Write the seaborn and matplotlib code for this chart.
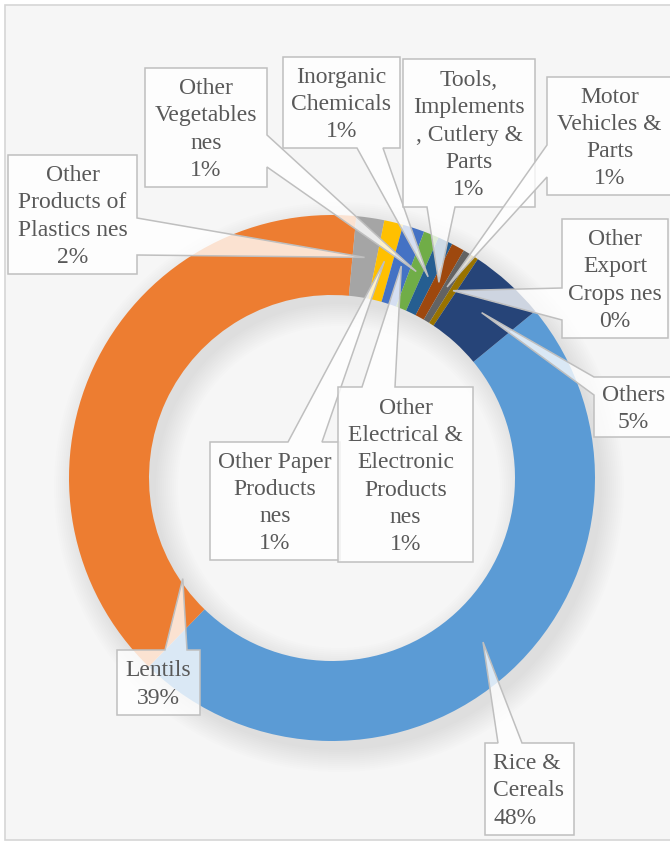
import os
import numpy as np
import pandas as pd
import matplotlib
matplotlib.use("Agg")
import matplotlib.pyplot as plt
import seaborn as sns
from matplotlib.patches import Wedge, Rectangle, Polygon
from matplotlib.font_manager import FontProperties

# ---------------- data ----------------
categories = [
    "Rice & Cereals", "Lentils", "Other Products of Plastics nes",
    "Other Paper Products nes", "Other Electrical & Electronic Products nes",
    "Other Vegetables nes", "Inorganic Chemicals",
    "Tools, Implements, Cutlery & Parts", "Motor Vehicles & Parts",
    "Other Export Crops nes", "Others",
]
shares = [48.2, 39.2, 1.72, 1.17, 1.33, 0.94, 0.92, 0.80, 0.55, 0.45, 4.70]
label_lines = [
    ["Rice &", "Cereals"],
    ["Lentils"],
    ["Other", "Products of", "Plastics nes"],
    ["Other Paper", "Products", "nes"],
    ["Other", "Electrical &", "Electronic", "Products", "nes"],
    ["Other", "Vegetables", "nes"],
    ["Inorganic", "Chemicals"],
    ["Tools,", "Implements", ", Cutlery &", "Parts"],
    ["Motor", "Vehicles &", "Parts"],
    ["Other", "Export", "Crops nes"],
    ["Others"],
]
colors = ["#5B9BD5", "#ED7D31", "#A5A5A5", "#FFC000", "#4472C4", "#70AD47",
          "#255E91", "#9E480E", "#636363", "#997300", "#264478"]

df = pd.DataFrame({"category": categories, "share": shares})

# ---------------- layout (pixel coords, y down) ----------------
W, H = 670, 842
CX, CY = 332, 478
R_OUT, R_IN = 263, 183
START_CW = 50.6  # first slice starts this many degrees clockwise from 12 o'clock

# box x0, y0, x1, y1, pointer edge, base1, base2, align
boxes = {
    "Rice & Cereals": (485, 743, 574, 835, "top", 498, 522, "left"),
    "Lentils": (117, 650, 200, 715, "top", 165, 187, "center"),
    "Other Products of Plastics nes": (8, 155, 137, 274, "right", 218, 255, "center"),
    "Other Paper Products nes": (210, 442, 340, 560, "top", 288, 322, "center"),
    "Other Electrical & Electronic Products nes": (338, 387, 473, 562, "top", 362, 395, "center"),
    "Other Vegetables nes": (145, 68, 267, 187, "right", 135, 167, "center"),
    "Inorganic Chemicals": (283, 57, 400, 148, "bottom", 357, 383, "center"),
    "Tools, Implements, Cutlery & Parts": (403, 59, 535, 207, "bottom", 427, 455, "center"),
    "Motor Vehicles & Parts": (547, 77, 672, 195, "left", 145, 177, "center"),
    "Other Export Crops nes": (562, 219, 668, 338, "left", 288, 320, "center"),
    "Others": (594, 377, 673, 437, "left", 377, 395, "center"),
}
tip_frac = {"Lentils": 0.084}
tip_rad = {"Lentils": 180}

# ---------------- style ----------------
sns.set_theme(style="white")
FS = 17
SERIF_PATH = "/usr/share/fonts/truetype/liberation/LiberationSerif-Regular.ttf"
if os.path.exists(SERIF_PATH):
    fprop = FontProperties(fname=SERIF_PATH, size=FS)
else:
    fprop = FontProperties(family="Liberation Serif", size=FS)
palette = sns.color_palette(colors)

fig = plt.figure(figsize=(W / 100, H / 100), dpi=100)
fig.patch.set_facecolor("white")
ax = fig.add_axes([0, 0, 1, 1])


def fy(y):
    return H - y


# chart area
ax.add_patch(Rectangle((5, fy(840)), 680, 835, facecolor="#F6F6F6",
                       edgecolor="#D6D6D6", lw=1.2, zorder=0))

# soft drop shadow of the ring (offset down-right)
for k in range(12):
    ax.add_patch(Wedge((CX + 7, fy(CY + 9)), R_OUT + k * 2.0, 0, 360,
                       width=(R_OUT - R_IN) + k * 4.0, facecolor="black",
                       edgecolor="none", alpha=0.009, zorder=1))

wedges, _ = ax.pie(df["share"], colors=palette, startangle=90 - START_CW,
                   counterclock=False, radius=R_OUT, center=(CX, fy(CY)),
                   wedgeprops=dict(width=R_OUT - R_IN, edgecolor="none"))
for w in wedges:
    w.set_zorder(2)

LINE = 27.2


def callout(x0, y0, x1, y1, edge, b1, b2, tip):
    TL, TR, BR, BL = (x0, y0), (x1, y0), (x1, y1), (x0, y1)
    if edge == "top":
        pts = [TL, (b1, y0), tip, (b2, y0), TR, BR, BL]
    elif edge == "right":
        pts = [TL, TR, (x1, b1), tip, (x1, b2), BR, BL]
    elif edge == "bottom":
        pts = [TL, TR, BR, (b2, y1), tip, (b1, y1), BL]
    else:
        pts = [TL, TR, BR, BL, (x0, b2), tip, (x0, b1)]
    return [(px, fy(py)) for px, py in pts]


for i, cat in enumerate(categories):
    w = wedges[i]
    x0, y0, x1, y1, edge, b1, b2, align = boxes[cat]
    f = tip_frac.get(cat, 0.5)
    ang = np.deg2rad(w.theta2 - f * (w.theta2 - w.theta1))
    rt = tip_rad.get(cat, (R_OUT + R_IN) / 2)
    tx = CX + rt * np.cos(ang)
    ty = CY - rt * np.sin(ang)
    poly = Polygon(callout(x0, y0, x1, y1, edge, b1, b2, (tx, ty)), closed=True,
                   facecolor=(1, 1, 1, 0.78), edgecolor="#BFBFBF", lw=1.1,
                   zorder=5 + i * 0.01, joinstyle="miter")
    ax.add_patch(poly)
    lines = label_lines[i] + [f"{round(shares[i])}%"]
    n = len(lines)
    cyb = (y0 + y1) / 2
    for j, t in enumerate(lines):
        yb = cyb + (j - (n - 1) / 2) * LINE + 7.5
        if align == "left":
            ax.text(x0 + 8, fy(yb), t, ha="left", va="baseline",
                    fontproperties=fprop, color="#595959", zorder=6)
        else:
            ax.text((x0 + x1) / 2, fy(yb), t, ha="center", va="baseline",
                    fontproperties=fprop, color="#595959", zorder=6)

ax.set_xlim(0, W)
ax.set_ylim(0, H)
ax.set_aspect("equal")
ax.axis("off")
fig.savefig("out.png", dpi=100, facecolor="white")
